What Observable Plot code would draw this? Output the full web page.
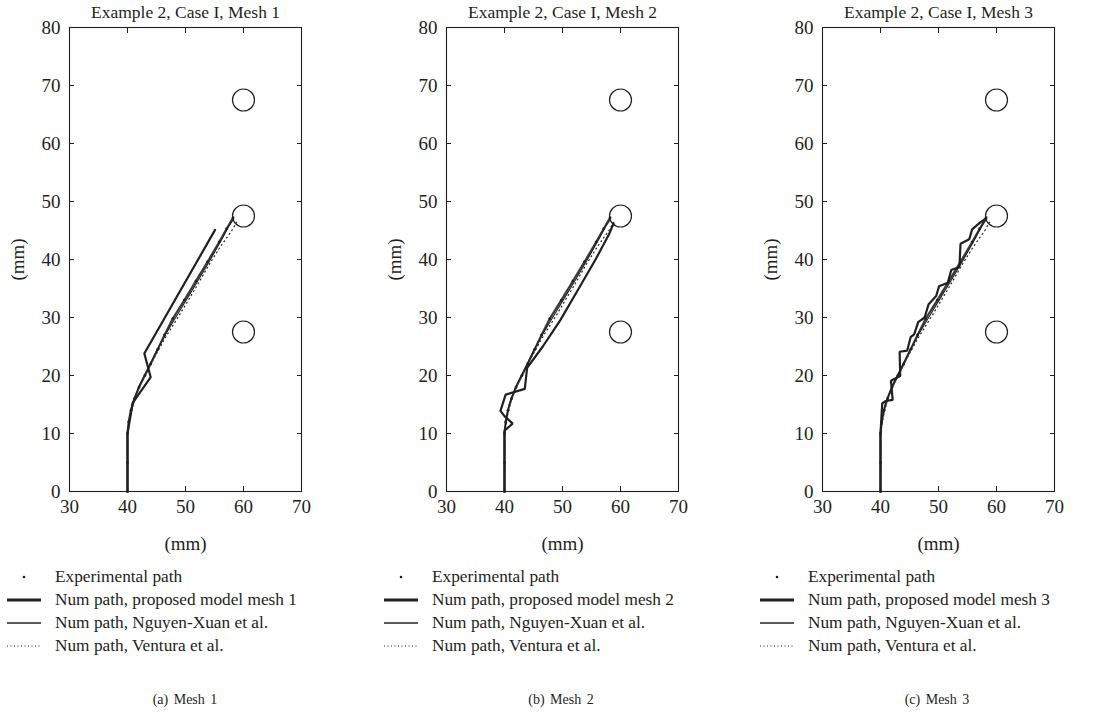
<!DOCTYPE html>
<html><head><meta charset="utf-8">
<script src="https://cdn.jsdelivr.net/npm/d3@7"></script>
<script src="https://cdn.jsdelivr.net/npm/@observablehq/plot@0.6"></script>
<style>
body{margin:0;background:#fff;font-family:"Liberation Serif",serif;color:#231f20}
#root{position:relative;width:1114px;height:725px;overflow:hidden}
.panel{position:absolute;top:0}
.leg{position:absolute;top:565px;font-size:17.3px}
.row{display:flex;align-items:center;height:23px;white-space:nowrap}
.row svg{margin-right:13px;flex:none}
.cap{position:absolute;top:692px;font-size:14px;width:240px;text-align:center;word-spacing:2px}
</style></head><body><div id="root"></div>
<script>
// ---- data (mm) ----
const titles = ["Example 2, Case I, Mesh 1", "Example 2, Case I, Mesh 2", "Example 2, Case I, Mesh 3"];
const captions = ["(a)  Mesh 1", "(b)  Mesh 2", "(c)  Mesh 3"];
const xTicks = [30, 40, 50, 60, 70];
const yTicks = [0, 10, 20, 30, 40, 50, 60, 70, 80];
const holes = [[60, 67.5], [60, 47.5], [60, 27.5]];
const experimental = [[40,0],[40,5],[40,10],[40.2,12],[40.6,14],[41.2,16],[42,18],[43,20],[44,22],[45.2,24.5],[46.4,27],[47.8,29.8],[49.8,33],[51.8,36.3],[53.8,39.6],[55.8,43],[57.1,45.3],[58.2,47.2]];
const nguyenXuan = [[40,0],[40,10],[40.3,12.5],[40.8,15],[41.9,18],[43.4,21],[44.9,24],[46.5,27],[48.3,30],[50.3,33.3],[52.3,36.6],[54.3,40],[56.1,43.2],[57.5,45.8],[58.3,47]];
const ventura = [[40,0],[40,10],[40.5,13],[41.2,16],[42.5,19],[44.3,22.5],[46.5,26.5],[49,30.5],[52,35.5],[54,39],[56,42.2],[58,45],[58.8,46.4]];
const proposed1 = [[40,0],[40,10],[40.9,15.3],[44,19.7],[42.9,23.8],[55.1,45.1]];
const proposed2 = [[40,0],[40,10.5],[41.4,11.7],[40,13],[39.3,13.9],[40.2,16.7],[43.5,17.7],[43.9,21.3],[46.6,25],[49.6,29.5],[52.8,35],[55.7,40],[58,44.3],[58.8,46.2]];
const proposed3 = [[40,0],[40,10],[40.3,15.2],[40.9,15.6],[42.1,15.8],[41.8,19.1],[43.4,19.9],[43.3,24.1],[44.6,24.3],[45.2,26.6],[45.8,27.1],[46.5,29.2],[47.6,30],[48.3,32.3],[49.6,33.7],[50.1,35.4],[51.6,36],[52.2,38.2],[53.6,38.7],[53.8,42.7],[55.3,43.5],[55.8,45.2],[57.2,46.4],[58.2,47.1]];
const proposedPaths = [proposed1, proposed2, proposed3];
const legendLabels = ["Experimental path", "Num path, proposed model mesh ", "Num path, Nguyen-Xuan et al.", "Num path, Ventura et al."];

const ink = "#231f20";
const panelLeft = [0, 377, 753];
const root = document.getElementById("root");
const fs = 19;

function panel(i) {
  return Plot.plot({
    width: 330, height: 560,
    marginLeft: 69, marginRight: 29, marginTop: 27, marginBottom: 69,
    x: {domain: [30, 70]},
    y: {domain: [0, 80]},
    style: {fontFamily: "'Liberation Serif', serif", fontSize: fs + "px", color: ink, background: "transparent", overflow: "visible"},
    marks: [
      Plot.frame({stroke: ink, strokeWidth: 1.1}),
      Plot.axisX(xTicks, {anchor: "bottom", tickSize: 0, tickPadding: 8, fontSize: fs, label: "(mm)", labelAnchor: "center", labelArrow: "none", labelOffset: 58}),
      Plot.axisX(xTicks, {anchor: "bottom", tickSize: 5, dy: -5, fill: "none", label: null, stroke: ink}),
      Plot.axisX(xTicks, {anchor: "top", tickSize: 5, dy: 5, fill: "none", label: null, stroke: ink}),
      Plot.axisY(yTicks, {anchor: "left", tickSize: 0, tickPadding: 9, fontSize: fs, label: "(mm)", labelAnchor: "center", labelArrow: "none", labelOffset: 59}),
      Plot.axisY(yTicks, {anchor: "left", tickSize: 5, dx: 5, fill: "none", label: null, stroke: ink}),
      Plot.axisY(yTicks, {anchor: "right", tickSize: 5, dx: -5, fill: "none", label: null, stroke: ink}),
      Plot.text([titles[i]], {frameAnchor: "top", lineAnchor: "middle", dy: -15, fontSize: 17.5, fill: ink}),
      Plot.dot(holes, {x: d => d[0], y: d => d[1], r: 11, stroke: ink, strokeWidth: 1.2, fill: "none"}),
      Plot.line(ventura, {x: d => d[0], y: d => d[1], stroke: ink, strokeWidth: 1.2, strokeDasharray: "1,3.5"}),
      Plot.line(experimental, {x: d => d[0], y: d => d[1], stroke: "#3a3a3a", strokeWidth: 2.2, strokeDasharray: "1.2,0.9"}),
      Plot.dot(experimental, {x: d => d[0], y: d => d[1], r: 1.4, fill: ink}),
      Plot.line(nguyenXuan, {x: d => d[0], y: d => d[1], stroke: ink, strokeWidth: 1.1}),
      Plot.line(proposedPaths[i], {x: d => d[0], y: d => d[1], stroke: ink, strokeWidth: 2.2, strokeLinejoin: "miter"})
    ]
  });
}

function marker(kind) {
  const s = d3.create("svg").attr("width", 36).attr("height", 10);
  if (kind === 0) s.append("circle").attr("cx", 18).attr("cy", 5).attr("r", 1.3).attr("fill", ink);
  if (kind === 1) s.append("line").attr("x1", 1).attr("x2", 35).attr("y1", 5).attr("y2", 5).attr("stroke", ink).attr("stroke-width", 3);
  if (kind === 2) s.append("line").attr("x1", 1).attr("x2", 35).attr("y1", 5).attr("y2", 5).attr("stroke", ink).attr("stroke-width", 1.3);
  if (kind === 3) s.append("line").attr("x1", 1).attr("x2", 35).attr("y1", 5).attr("y2", 5).attr("stroke", ink).attr("stroke-width", 1).attr("stroke-dasharray", "1,2.5");
  return s.node();
}

const legendLeft = [6, 383, 759];
const capCenter = [185, 561, 937];
for (let i = 0; i < 3; i++) {
  const div = document.createElement("div");
  div.className = "panel";
  div.style.left = panelLeft[i] + "px";
  div.appendChild(panel(i));
  root.appendChild(div);

  const leg = document.createElement("div");
  leg.className = "leg";
  leg.style.left = legendLeft[i] + "px";
  legendLabels.forEach((lab, k) => {
    const row = document.createElement("div");
    row.className = "row";
    row.appendChild(marker(k));
    const t = document.createElement("span");
    t.textContent = k === 1 ? lab + (i + 1) : lab;
    row.appendChild(t);
    leg.appendChild(row);
  });
  root.appendChild(leg);

  const cap = document.createElement("div");
  cap.className = "cap";
  cap.style.left = (capCenter[i] - 120) + "px";
  cap.textContent = captions[i];
  root.appendChild(cap);
}
</script>
</body></html>
